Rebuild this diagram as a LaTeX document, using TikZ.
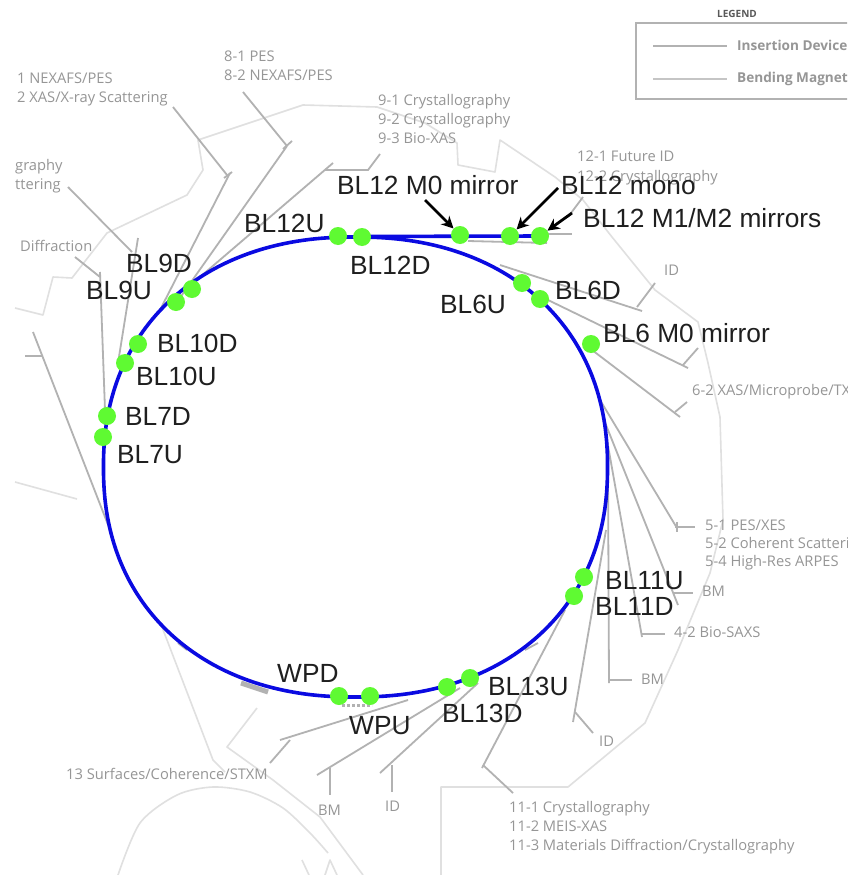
\documentclass[tikz,border=0pt]{standalone}
\usepackage{fontspec}
\setmainfont{Liberation Sans}
\newfontfamily\greyfont{Open Sans}
\usetikzlibrary{arrows.meta}
\definecolor{ringblue}{RGB}{10,10,225}
\definecolor{dotgreen}{RGB}{95,250,50}
\definecolor{beamgrey}{RGB}{178,178,178}
\definecolor{wallgrey}{RGB}{224,224,224}
\definecolor{labelgrey}{RGB}{150,150,150}
\tikzset{
  beam/.style={draw=beamgrey,line width=1.8pt},
  wall/.style={draw=wallgrey,line width=1.6pt,line join=round},
  ring/.style={draw=ringblue,line width=3.6pt,line cap=round},
  station/.style={circle,fill=dotgreen,inner sep=0pt,minimum size=18pt},
  biglabel/.style={anchor=west,inner sep=0pt,text=black!88,font=\fontsize{26.3}{30}\selectfont},
  smalllabel/.style={anchor=west,inner sep=0pt,text height=10.5pt,text depth=3.5pt,text=labelgrey,font=\greyfont\fontsize{14.7}{17}\selectfont},
  pointer/.style={draw=black,line width=2.8pt,-{Stealth[length=12pt,width=12pt]}},
}
\begin{document}
\begin{tikzpicture}[x=1pt,y=-1pt]
\useasboundingbox (0,0) rectangle (850,875);
\fill[white] (0,0) rectangle (850,875);
\begin{scope}
\clip (14,0) rectangle (847,875);
% shield wall
\draw[wall] (15,308) -- (43,315) -- (53,277) -- (72,278) -- (107,233) -- (187,195) -- (203,170) -- (198,140) -- (303,105) -- (377,107) -- (425,123) -- (457,143) -- (458,165) -- (495,172) -- (500,140) -- (555,177) -- (583,200) -- (612,237) -- (655,290) -- (698,322) -- (708,363) -- (720,417) -- (723,520) -- (710,573) -- (678,650) -- (645,723) -- (568,787) -- (441,787) -- (441,875);
\draw[wall] (15,482) -- (77,499);
\draw[wall] (162,627) -- (213,760) -- (225,772);
\draw[wall] (257,708) -- (227,747) -- (273,780) -- (320,817) -- (363,875);
\draw[wall] plot[smooth] coordinates {(118,875) (140,823) (177,795) (213,787) (250,792) (283,808) (310,833) (328,853)};
\draw[wall] (302,860) -- (309,875);
\draw[wall] (325,875) -- (330,860) -- (337,875);
% legend
\draw[draw=beamgrey,line width=1.6pt] (860,23) -- (636,23) -- (636,99) -- (860,99);
\draw[beam] (653,46) -- (727,46);
\draw[beam,draw=beamgrey!75] (653,79) -- (727,79);
% beamlines, upper left
\draw[beam] (243,92) -- (287,146);
\draw[beam] (292,141) -- (283,149);
\draw[beam] (287,146) -- (177,302);
\draw[beam] (173,107) -- (227,175);
\draw[beam] (232,172) -- (224,178);
\draw[beam] (230,173) -- (160,310);
\draw[beam] (380,154) -- (368,170) -- (325,170);
\draw[beam] (333,163) -- (200,277);
\draw[beam] (68,187) -- (132,252);
\draw[beam] (138,238) -- (118,363);
\draw[beam] (75,257) -- (100,277);
\draw[beam] (100,272) -- (105,410);
\draw[beam] (25,356) -- (42,356);
\draw[beam] (33,332) -- (112,535);
% upper right
\draw[beam] (583,197) -- (568,217);
\draw[beam] (540,234) -- (572,234);
\draw[beam] (468,241) -- (547,243);
\draw[beam] (500,265) -- (642,311);
\draw[beam] (655,283) -- (637,307);
\draw[beam] (548,300) -- (688,368);
\draw[beam] (698,348) -- (683,365);
\draw[beam] (592,350) -- (680,417);
\draw[beam] (687,402) -- (675,412);
% right
\draw[beam] (600,400) -- (677,528);
\draw[beam] (675,527) -- (695,527);
\draw[beam] (677,522) -- (677,532);
\draw[beam] (604,420) -- (678,605);
\draw[beam] (673,593) -- (693,593);
\draw[beam] (607,440) -- (642,637);
\draw[beam] (642,634) -- (665,634);
\draw[beam] (608,473) -- (609,683);
\draw[beam] (609,680) -- (632,680);
\draw[beam] (606,530) -- (573,722);
\draw[beam] (575,712) -- (593,733);
\draw[beam] (565,610) -- (482,768);
\draw[beam] (483,765) -- (513,793);
\draw[beam] (525,650) -- (538,643);
% bottom
\draw[beam] (408,700) -- (280,740);
\draw[beam] (290,740) -- (270,763);
\draw[beam] (460,688) -- (317,775);
\draw[beam] (330,768) -- (330,795);
\draw[beam] (478,683) -- (380,773);
\draw[beam] (392,765) -- (392,792);
\draw[draw=beamgrey,line width=5pt] (241,683) -- (268,692);
\draw[beam] (178,643) -- (187,650);
\draw[draw=beamgrey,line width=3pt,dotted] (342,705) -- (372,705);
% grey labels
\node[smalllabel] (t81) at (224,58) {8-1 PES};
\node[smalllabel] (t82) at (224,77) {8-2 NEXAFS/PES};
\node[smalllabel] (t71) at (17,80) {1 NEXAFS/PES};
\node[smalllabel] (t72) at (17,99) {2 XAS/X-ray Scattering};
\node[smalllabel] (t31) at (15,167) {graphy};
\node[smalllabel] (t32) at (15,186) {ttering};
\node[smalllabel] (t33) at (20,248) {Diffraction};
\node[smalllabel] (t91) at (378,102) {9-1 Crystallography};
\node[smalllabel] (t92) at (378,121) {9-2 Crystallography};
\node[smalllabel] (t93) at (378,140) {9-3 Bio-XAS};
\node[smalllabel] (t121) at (577,158) {12-1 Future ID};
\node[smalllabel] (t122) at (577,178) {12-2 Crystallography};
\node[smalllabel] (tid1) at (664,272) {ID};
\node[smalllabel] (t62) at (692,392) {6-2 XAS/Microprobe/TX};
\node[smalllabel] (t51) at (705,527) {5-1 PES/XES};
\node[smalllabel] (t52) at (705,545) {5-2 Coherent Scatteri};
\node[smalllabel] (t54) at (705,563) {5-4 High-Res ARPES};
\node[smalllabel] (tbm1) at (702,593) {BM};
\node[smalllabel] (t42) at (674,634) {4-2 Bio-SAXS};
\node[smalllabel] (tbm2) at (641,681) {BM};
\node[smalllabel] (tid2) at (599,743) {ID};
\node[smalllabel] (t111) at (509,809) {11-1 Crystallography};
\node[smalllabel] (t112) at (509,828) {11-2 MEIS-XAS};
\node[smalllabel] (t113) at (509,847) {11-3 Materials Diffraction/Crystallography};
\node[smalllabel] (t13) at (66,776) {13 Surfaces/Coherence/STXM};
\node[smalllabel] (tbm3) at (318,812) {BM};
\node[smalllabel] (tid3) at (385,808) {ID};
\node[smalllabel,font=\greyfont\bfseries\fontsize{10}{12}\selectfont,text=black!65,anchor=center,text height=7pt,text depth=0pt] (tleg) at (737,14) {LEGEND};
\node[smalllabel,font=\greyfont\bfseries\fontsize{13.6}{16}\selectfont] (tins) at (737,47) {Insertion Device};
\node[smalllabel,font=\greyfont\bfseries\fontsize{13.6}{16}\selectfont] (tben) at (737,79) {Bending Magnet};
\end{scope}
% ring
\draw[ring] plot[domain=1:361,samples=181,smooth] ({355.5+252*sign(cos(\x))*abs(cos(\x))^0.909},{467+230*sign(sin(\x))*abs(sin(\x))^0.909});
\draw[ring] (362,236.5) -- (540,236);
% stations
\node[station] (s12u) at (338,236) {};
\node[station] (s12d) at (362,237) {};
\node[station] (m0) at (460,235) {};
\node[station] (mono) at (510,236) {};
\node[station] (m12) at (540,236) {};
\node[station] (s6u) at (522,283) {};
\node[station] (s6d) at (540,299) {};
\node[station] (m6) at (591,344) {};
\node[station] (s9d) at (192,289) {};
\node[station] (s9u) at (176,302) {};
\node[station] (s10d) at (138,344) {};
\node[station] (s10u) at (125,363) {};
\node[station] (s7d) at (107,416) {};
\node[station] (s7u) at (103,437) {};
\node[station] (wpd) at (339,696) {};
\node[station] (wpu) at (370,696) {};
\node[station] (s13d) at (447,687) {};
\node[station] (s13u) at (470,678) {};
\node[station] (s11d) at (574,596) {};
\node[station] (s11u) at (584,577) {};
% big labels
\node[biglabel] (l12m0) at (337,185) {BL12 M0 mirror};
\node[biglabel] (l12mono) at (561,185) {BL12 mono};
\node[biglabel] (l12m1) at (583,218) {BL12 M1/M2 mirrors};
\node[biglabel] (l12u) at (244,223) {BL12U};
\node[biglabel] (l12d) at (350,265) {BL12D};
\node[biglabel] (l6u) at (440,304) {BL6U};
\node[biglabel] (l6d) at (555,290) {BL6D};
\node[biglabel] (l6m0) at (603,333) {BL6 M0 mirror};
\node[biglabel] (l9d) at (126,263) {BL9D};
\node[biglabel] (l9u) at (86,290) {BL9U};
\node[biglabel] (l10d) at (157,343) {BL10D};
\node[biglabel] (l10u) at (136,376) {BL10U};
\node[biglabel] (l7d) at (125,416) {BL7D};
\node[biglabel] (l7u) at (117,455) {BL7U};
\node[biglabel] (lwpd) at (277,673) {WPD};
\node[biglabel] (lwpu) at (349,726) {WPU};
\node[biglabel] (l13u) at (488,686) {BL13U};
\node[biglabel] (l13d) at (442,713) {BL13D};
\node[biglabel] (l11u) at (605,581) {BL11U};
\node[biglabel] (l11d) at (595,606) {BL11D};
% pointers
\coordinate (p0) at (425,200);
\coordinate (p1) at (558,188);
\coordinate (p2) at (572,213);
\draw[pointer] (p0) -- (m0);
\draw[pointer] (p1) -- (mono);
\draw[pointer] (p2) -- (m12);
\end{tikzpicture}
\end{document}
